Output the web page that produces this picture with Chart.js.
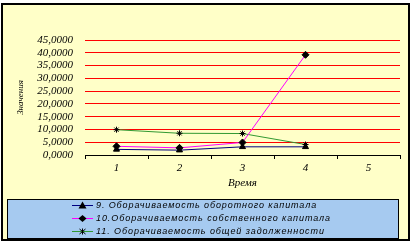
<!DOCTYPE html>
<html><head><meta charset="utf-8">
<script src="https://cdn.jsdelivr.net/npm/chart.js@4/dist/chart.umd.min.js"></script>
<style>html,body{margin:0;padding:0;background:#fff;}#wrap{width:414px;height:243px;}</style>
</head><body><div id="wrap"><canvas id="c" width="414" height="243"></canvas></div>
<script>
const categories = ['1', '2', '3', '4', '5'];
const seriesNames = [
  '9. Оборачиваемость оборотного капитала',
  '10.Оборачиваемость собственного капитала',
  '11. Оборачиваемость общей задолженности'
];
const turnoverWorking = [2.2, 1.9, 3.2, 3.2];
const turnoverEquity = [3.4, 2.8, 4.9, 39.2];
const turnoverDebt = [9.9, 8.5, 8.4, 4.1];
const yTicks = [0, 5, 10, 15, 20, 25, 30, 35, 40, 45];
const yTitle = 'Значения';
const xTitle = 'Время';

const colors = ['#000080', '#ff00ff', '#339933'];
const markers = ['triangle', 'rectRot', 'star'];
const seriesData = [turnoverWorking, turnoverEquity, turnoverDebt];

const bgPlugin = {
  id: 'bg',
  beforeDraw(chart) {
    const c = chart.ctx;
    c.save();
    c.fillStyle = '#ffffff';
    c.fillRect(0, 0, chart.width, chart.height);
    c.fillStyle = '#ffffc8';
    c.fillRect(2, 4, 407, 236);
    c.lineWidth = 2;
    c.strokeStyle = '#000';
    c.strokeRect(2, 4, 407, 236);
    c.restore();
  }
};

function drawMarker(c, style, x, y) {
  c.save();
  c.fillStyle = '#000';
  c.strokeStyle = '#000';
  c.lineWidth = 1;
  c.beginPath();
  if (style === 'triangle') {
    c.moveTo(x, y - 4); c.lineTo(x + 4, y + 3); c.lineTo(x - 4, y + 3); c.closePath(); c.fill();
  } else if (style === 'rectRot') {
    c.moveTo(x, y - 3.5); c.lineTo(x + 4, y); c.lineTo(x, y + 3.5); c.lineTo(x - 4, y); c.closePath(); c.fill();
  } else {
    c.moveTo(x - 3, y - 2.5); c.lineTo(x + 3, y + 2.5);
    c.moveTo(x + 3, y - 2.5); c.lineTo(x - 3, y + 2.5);
    c.moveTo(x, y - 3); c.lineTo(x, y + 3);
    c.stroke();
  }
  c.restore();
}

const legendPlugin = {
  id: 'legendBox',
  afterDraw(chart) {
    const c = chart.ctx;
    c.save();
    c.fillStyle = '#a6caf0';
    c.fillRect(7.5, 199.5, 391, 39);
    c.strokeStyle = '#000';
    c.lineWidth = 1;
    c.strokeRect(7.5, 199.5, 391, 39);
    const rowsY = [205.5, 218.5, 231.5];
    const ends = [317, 331, 325];
    seriesNames.forEach((name, i) => {
      const y = rowsY[i];
      c.strokeStyle = colors[i];
      c.lineWidth = 1;
      c.beginPath(); c.moveTo(72, y); c.lineTo(93, y); c.stroke();
      drawMarker(c, markers[i], 82.5, y);
      c.fillStyle = '#000';
      c.font = 'italic 9px "Liberation Sans", Arial, sans-serif';
      c.textBaseline = 'middle';
      c.textAlign = 'left';
      c.letterSpacing = '0px';
      const w = c.measureText(name).width;
      const ls = Math.max(0, (ends[i] - 96 - w) / name.length);
      c.letterSpacing = ls.toFixed(2) + 'px';
      c.fillText(name, 96, y);
    });
    c.restore();
  }
};

const datasets = seriesNames.map((name, i) => ({
  label: name,
  data: seriesData[i],
  borderColor: colors[i],
  backgroundColor: '#000',
  borderWidth: 1,
  pointStyle: markers[i],
  pointRadius: i === 2 ? 3 : 3.5,
  pointBackgroundColor: '#000',
  pointBorderColor: '#000',
  pointBorderWidth: 1,
  tension: 0,
  fill: false
}));

new Chart(document.getElementById('c'), {
  type: 'line',
  data: { labels: categories, datasets: datasets },
  options: {
    responsive: false,
    animation: false,
    devicePixelRatio: 1,
    layout: { padding: { top: 40, right: 14, left: 0, bottom: 48 } },
    plugins: { legend: { display: false }, tooltip: { enabled: false } },
    scales: {
      x: {
        type: 'category',
        offset: true,
        afterFit(s) { s.height = 40; },
        grid: { display: true, drawOnChartArea: false, drawTicks: true, tickLength: 4, color: '#000', offset: true, lineWidth: 1 },
        border: { display: true, color: '#000', width: 1 },
        ticks: { color: '#000', padding: 3, font: { family: '"Liberation Serif", "Times New Roman", serif', style: 'italic', size: 11 } },
        title: { display: true, text: xTitle, color: '#000', padding: { top: 0, bottom: 5 }, font: { family: '"Liberation Serif", "Times New Roman", serif', style: 'italic', size: 11 } }
      },
      y: {
        min: 0, max: 45,
        afterFit(s) { s.width = 85; },
        afterBuildTicks(s) { s.ticks = yTicks.map(v => ({ value: v })); },
        grid: { drawTicks: false, color: (ctx) => (ctx.tick && ctx.tick.value === 0) ? '#000' : '#ff0000', lineWidth: 1 },
        border: { display: false },
        ticks: {
          autoSkip: false,
          color: '#000', padding: 12,
          font: { family: '"Liberation Serif", "Times New Roman", serif', style: 'italic', size: 11 },
          callback: (v) => Number(v).toFixed(4).replace('.', ',')
        },
        title: { display: true, text: yTitle, color: '#000', padding: { top: 15, bottom: 0 }, font: { family: '"Liberation Serif", "Times New Roman", serif', style: 'italic', size: 9 } }
      }
    }
  },
  plugins: [bgPlugin, legendPlugin]
});
</script>
</body></html>
